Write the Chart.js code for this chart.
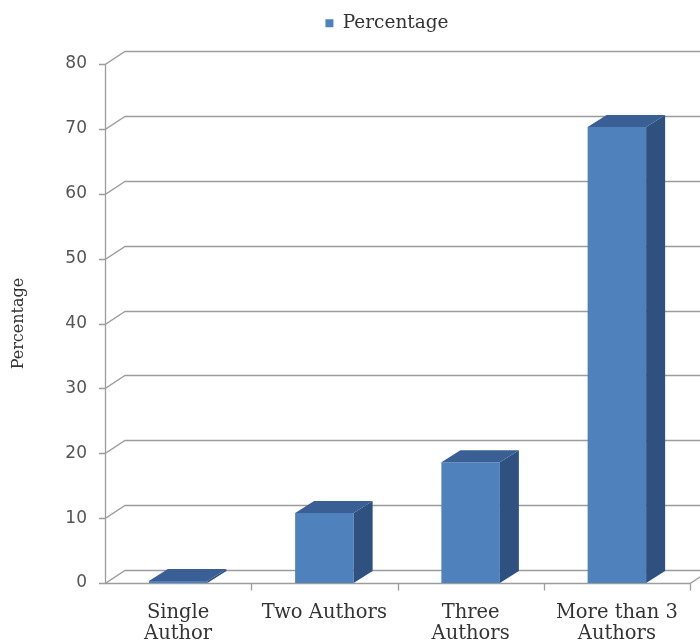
<!DOCTYPE html>
<html><head><meta charset="utf-8">
<script src="https://cdn.jsdelivr.net/npm/chart.js@4/dist/chart.umd.min.js"></script>
<style>html,body{margin:0;padding:0;background:#fff}#wrap{width:700px;height:642px}</style>
</head><body><div id="wrap"><canvas id="c" width="700" height="642"></canvas></div>
<script>
const categories = [["Single","Author"],["Two Authors"],["Three","Authors"],["More than 3","Authors"]];
const seriesName = "Percentage";
const percentages = [0.3, 10.8, 18.6, 70.3];
const yMin = 0, yMax = 80, yStep = 10;

const DX = 20, DY = -13;     // back-wall offset
const BDX = 19, BDY = -12;   // bar depth
const GRID = '#9c9c9c';
const FRONT = '#4f81bd', TOP = '#3a5f95', SIDE = '#2f5180';

const threeD = {
  id: 'threeD',
  beforeLayout(chart) {
    const lg = chart.legend;
    if (lg && !lg._wrapped) {
      const of = lg.fit.bind(lg);
      lg.fit = function () { of(); this.height = 60; };
      lg._wrapped = true;
    }
  },
  afterLayout(chart) {
    const lg = chart.legend;
    if (lg) { lg.left = 2 * 387 - lg.right; }
  },
  beforeDatasetsDraw(chart) {
    const ctx = chart.ctx, y = chart.scales.y;
    const L = chart.chartArea.left, R = chart.chartArea.right;
    ctx.save();
    ctx.strokeStyle = GRID; ctx.lineWidth = 1.3;
    y.ticks.forEach(t => {
      const py = Math.round(y.getPixelForValue(t.value)) + 0.5;
      ctx.beginPath();
      ctx.moveTo(L - 6, py); ctx.lineTo(L, py);
      ctx.lineTo(L + DX, py + DY);
      ctx.lineTo(chart.width, py + DY);
      ctx.stroke();
    });
    const topY = Math.round(y.getPixelForValue(yMax)) + 0.5;
    const botY = Math.round(y.getPixelForValue(yMin)) + 0.5;
    ctx.beginPath(); ctx.moveTo(L + 0.5, topY); ctx.lineTo(L + 0.5, botY); ctx.stroke();
    ctx.beginPath(); ctx.moveTo(L, botY); ctx.lineTo(R, botY); ctx.lineTo(R + DX, botY + DY); ctx.stroke();
    const n = categories.length, cw = (R - L) / n;
    for (let i = 1; i <= n; i++) {
      const px = Math.round(L + i * cw) + 0.5;
      ctx.beginPath(); ctx.moveTo(px, botY); ctx.lineTo(px, botY + 7); ctx.stroke();
    }
    ctx.restore();
  },
  afterDatasetsDraw(chart) {
    const ctx = chart.ctx;
    const meta = chart.getDatasetMeta(0);
    ctx.save();
    meta.data.forEach(b => {
      const p = b.getProps(['x', 'y', 'base', 'width'], true);
      const l = p.x - p.width / 2, r = p.x + p.width / 2, t = p.y, bs = p.base;
      ctx.fillStyle = SIDE;
      ctx.beginPath();
      ctx.moveTo(r, t); ctx.lineTo(r + BDX, t + BDY); ctx.lineTo(r + BDX, bs + BDY); ctx.lineTo(r, bs);
      ctx.closePath(); ctx.fill();
      ctx.fillStyle = TOP;
      ctx.beginPath();
      ctx.moveTo(l, t); ctx.lineTo(l + BDX, t + BDY); ctx.lineTo(r + BDX, t + BDY); ctx.lineTo(r, t);
      ctx.closePath(); ctx.fill();
    });
    ctx.restore();
  }
};

new Chart(document.getElementById('c'), {
  type: 'bar',
  data: {
    labels: categories,
    datasets: [{
      label: seriesName,
      data: percentages,
      backgroundColor: FRONT,
      borderWidth: 0,
      barPercentage: 0.4,
      categoryPercentage: 1.0
    }]
  },
  options: {
    responsive: false,
    animation: false,
    layout: { padding: { left: 0, right: 10, top: 4, bottom: 0 } },
    plugins: {
      legend: {
        position: 'top',
        labels: {
          boxWidth: 8, boxHeight: 8, padding: 10,
          color: '#333',
          font: { family: 'DejaVu Serif', size: 18.5 }
        }
      },
      tooltip: { enabled: false }
    },
    scales: {
      x: {
        grid: { display: false, drawTicks: false, tickLength: 0 },
        border: { display: false },
        ticks: {
          color: '#333', padding: 19, maxRotation: 0, autoSkip: false,
          font: { family: 'DejaVu Serif', size: 19.5, lineHeight: 1.1 }
        },
        afterFit(axis) { axis.height = 59; }
      },
      y: {
        min: yMin, max: yMax,
        grid: { display: false, drawTicks: false, tickLength: 0 },
        border: { display: false },
        ticks: {
          stepSize: yStep, color: '#555', padding: 18,
          font: { family: 'DejaVu Sans', size: 17 }
        },
        title: {
          display: true, text: seriesName, color: '#333',
          padding: { top: 9, bottom: 0 },
          font: { family: 'DejaVu Serif', size: 16 }
        },
        afterFit(axis) { axis.width = 105; }
      }
    }
  },
  plugins: [threeD]
});
</script>
</body></html>
